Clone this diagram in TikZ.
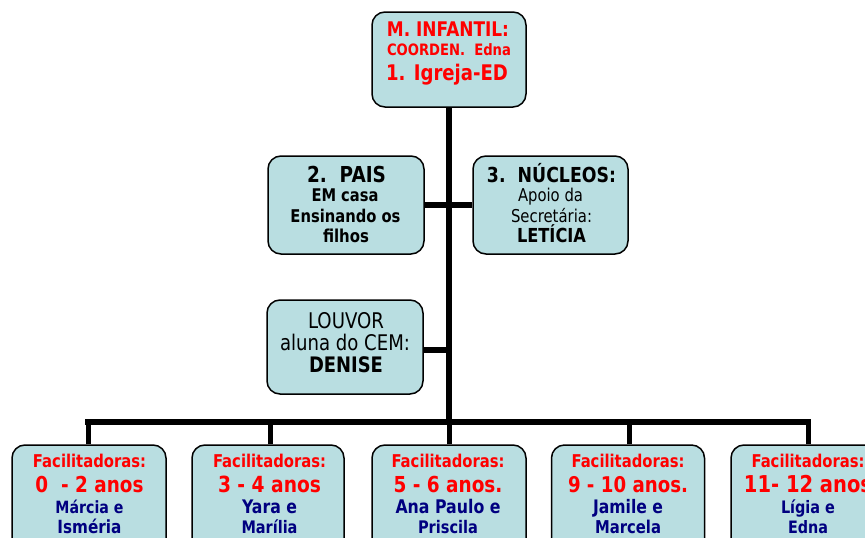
\documentclass[tikz,border=0pt]{standalone}
\usepackage{fontspec}
\usepackage{graphicx}
\setmainfont{DejaVu Sans}[FakeStretch=0.84]
\definecolor{boxfill}{RGB}{185,222,225}
\definecolor{navytext}{RGB}{0,0,128}
\definecolor{redtext}{RGB}{255,0,0}
\newcommand{\fw}[2]{\resizebox{#1pt}{!}{#2}}
\tikzset{
  orgbox/.style={draw=black, line width=1.5pt, fill=boxfill, rounded corners=13pt, inner sep=0pt},
  wire/.style={line width=6pt, black},
  dropwire/.style={line width=5pt, black},
  txt/.style={anchor=base, inner sep=0pt, outer sep=0pt, font=\fontsize{14}{14}\selectfont},
  btxt/.style={anchor=base, inner sep=0pt, outer sep=0pt, font=\fontsize{14}{14}\selectfont\bfseries},
}
\begin{document}
\begin{tikzpicture}[x=1pt, y=-1pt]
\useasboundingbox (0,0) rectangle (865,538);
\clip (0,0) rectangle (865,538);
% boxes
\node[orgbox, minimum width=154pt, minimum height=95pt] (top) at (449,59.5) {};
\node[orgbox, minimum width=156pt, minimum height=98pt] (pais) at (346,205) {};
\node[orgbox, minimum width=155pt, minimum height=98pt] (nucleos) at (550.5,205) {};
\node[orgbox, minimum width=156pt, minimum height=94pt] (louvor) at (345,347) {};
\node[orgbox, minimum width=154pt, minimum height=120pt] (b1) at (89,505) {};
\node[orgbox, minimum width=152pt, minimum height=120pt] (b2) at (268,505) {};
\node[orgbox, minimum width=154pt, minimum height=120pt] (b3) at (449,505) {};
\node[orgbox, minimum width=153pt, minimum height=120pt] (b4) at (628,505) {};
\node[orgbox, minimum width=154pt, minimum height=120pt] (b5) at (808,505) {};
% connectors
\coordinate (busL) at (88,422);
\coordinate (busR) at (808,422);
\coordinate (busM) at (449,422);
\draw[wire] (top.south) -- (busM);
\draw[wire] ([xshift=-3pt]busL) -- ([xshift=3pt]busR);
\draw[wire] (pais.east |- 0,205) -- (nucleos.west |- 0,205);
\draw[wire] (louvor.east |- 0,350) -- (449,350);
\draw[dropwire] (b1.north -| busL) -- (busL);
\draw[dropwire] (b2.north -| 270,0) -- (270,422);
\draw[dropwire] (b3.north) -- (busM);
\draw[dropwire] (b4.north -| 629,0) -- (629,422);
\draw[dropwire] (b5.north -| busR) -- (busR);
% top texts
\node[btxt, text=redtext] (t1) at (448,36) {\fw{122}{M. INFANTIL:}};
\node[btxt, text=redtext] (t2) at (449,55) {\fw{124}{COORDEN.~~Edna}};
\node[btxt, text=redtext] (t3) at (447,80) {\fw{122}{1. Igreja-ED}};
% pais
\node[btxt] (p1) at (346.5,182) {\fw{79}{2.~~PAIS}};
\node[btxt] (p2) at (345,201) {\fw{67}{EM casa}};
\node[btxt] (p3) at (345.5,222) {\fw{110}{Ensinando os}};
\node[btxt] (p4) at (346,242) {\fw{46}{filhos}};
% nucleos
\node[btxt] (n1) at (551.5,182) {\fw{129}{3.~~NÚCLEOS:}};
\node[txt] (n2) at (550.5,201) {\fw{65}{Apoio da}};
\node[txt] (n3) at (551.5,222) {\fw{81}{Secretária:}};
\node[btxt] (n4) at (551.5,242) {\fw{69}{LETÍCIA}};
% louvor
\node[txt] (l1) at (346,328) {\fw{76}{LOUVOR}};
\node[txt] (l2) at (345,350) {\fw{130}{aluna do CEM:}};
\node[btxt] (l3) at (346,372) {\fw{74}{DENISE}};
% bottom boxes
\foreach \nm/\cx/\wa/\ag/\wb/\na/\wc/\nb in {
  f1/89.5/108/{0~~-~2 anos}/68/{Márcia e}/64/{Isméria},
  f2/269.5/103/{3 - 4 anos}/55/{Yara e}/56/{Marília},
  f3/448/109/{5 - 6 anos.}/105/{Ana Paulo e}/60/{Priscila},
  f4/628/120/{9 - 10 anos.}/70/{Jamile e}/66/{Marcela},
  f5/808/128/{11- 12 anos}/54/{Lígia e}/40/{Edna}}{
  \node[btxt, text=redtext] (\nm a) at (\cx,467) {\fw{113}{Facilitadoras:}};
  \node[btxt, text=redtext] (\nm b) at (\cx,492) {\fw{\wa}{\ag}};
  \node[btxt, text=navytext] (\nm c) at (\cx,513) {\fw{\wb}{\na}};
  \node[btxt, text=navytext] (\nm d) at (\cx,533) {\fw{\wc}{\nb}};
}
\end{tikzpicture}
\end{document}
